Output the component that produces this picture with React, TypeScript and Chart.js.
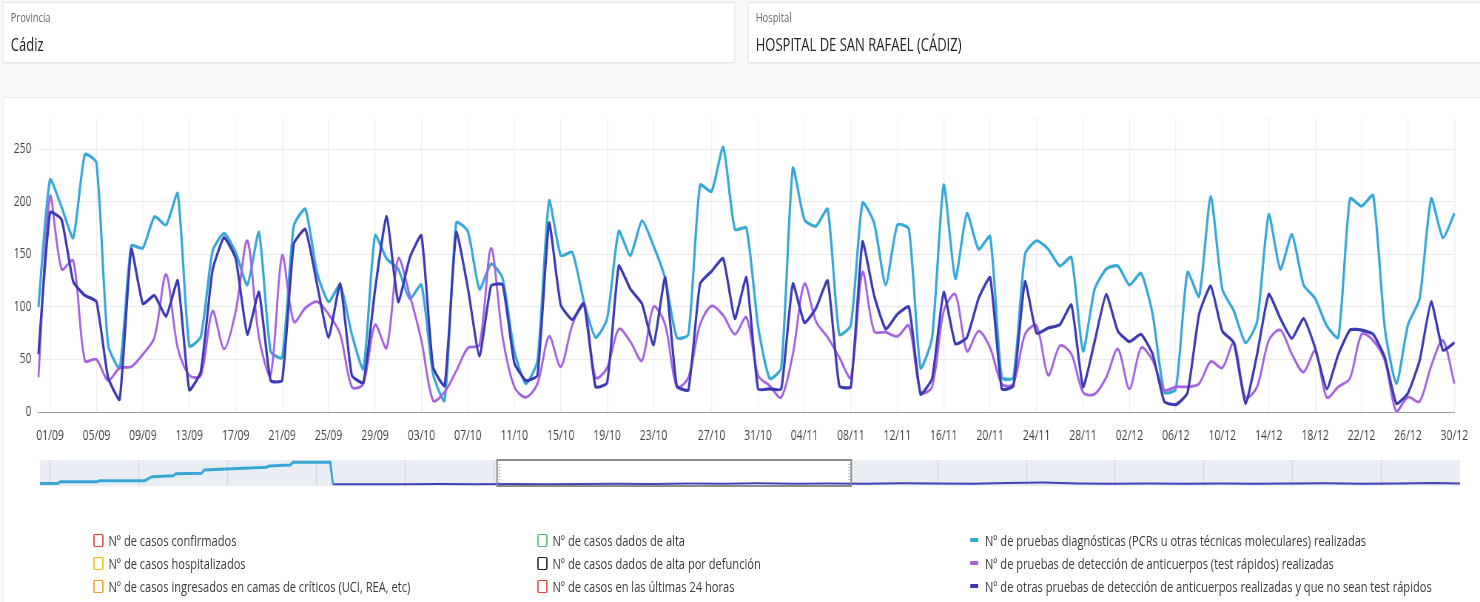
import React, { useEffect, useRef } from 'react';
import { Chart, registerables } from 'chart.js';

Chart.register(...registerables);

// ---------- texts ----------
const PROVINCIA_LABEL = 'Provincia';
const PROVINCIA = 'Cádiz';
const HOSPITAL_LABEL = 'Hospital';
const HOSPITAL = 'HOSPITAL DE SAN RAFAEL (CÁDIZ)';

// ---------- categories (daily, 31/08 .. 30/12, 25/10 appears twice: DST change) ----------
const FIRST_DAY = [2020, 7, 31];
const LAST_DAY = [2020, 11, 30];
const DUPLICATED_DAY = '25/10';

function buildDays(): string[] {
  const out: string[] = [];
  let t = Date.UTC(FIRST_DAY[0], FIRST_DAY[1], FIRST_DAY[2]);
  const end = Date.UTC(LAST_DAY[0], LAST_DAY[1], LAST_DAY[2]);
  while (t <= end) {
    const d = new Date(t);
    const s = String(d.getUTCDate()).padStart(2, '0') + '/' + String(d.getUTCMonth() + 1).padStart(2, '0');
    out.push(s);
    if (s === DUPLICATED_DAY) out.push(s);
    t += 86400000;
  }
  return out;
}
const days = buildDays();

const xTickLabels = [
  '01/09', '05/09', '09/09', '13/09', '17/09', '21/09', '25/09', '29/09', '03/10', '07/10',
  '11/10', '15/10', '19/10', '23/10', '27/10', '31/10', '04/11', '08/11', '12/11', '16/11',
  '20/11', '24/11', '28/11', '02/12', '06/12', '10/12', '14/12', '18/12', '22/12', '26/12', '30/12',
];
const yTicks = [0, 50, 100, 150, 200, 250];
const Y_MAX = 280;

// ---------- series ----------
const pcr = [
  100, 221, 195, 166, 245, 237, 64, 42, 158, 156,
  186, 178, 208, 63, 72, 153, 170, 152, 121, 171,
  58, 52, 177, 193, 133, 105, 121, 74, 41, 168,
  146, 136, 108, 121, 36, 11, 180, 172, 117, 141,
  127, 58, 27, 49, 201, 149, 152, 105, 71, 89,
  172, 149, 182, 158, 127, 71, 74, 216, 210, 252,
  174, 175, 82, 32, 42, 232, 183, 177, 193, 74,
  83, 199, 180, 121, 178, 174, 42, 71, 216, 127,
  189, 155, 167, 33, 33, 150, 163, 155, 139, 147,
  58, 117, 136, 139, 121, 132, 93, 19, 22, 133,
  110, 205, 117, 96, 66, 86, 188, 136, 169, 121,
  108, 82, 71, 203, 196, 206, 80, 27, 83, 108,
  203, 166, 189,
];

const testRapidos = [
  33, 205, 136, 144, 49, 50, 30, 42, 43, 55,
  71, 131, 61, 35, 35, 96, 60, 96, 163, 71,
  35, 149, 86, 99, 105, 93, 74, 24, 27, 83,
  61, 146, 111, 68, 11, 19, 39, 61, 64, 156,
  71, 24, 14, 27, 72, 43, 83, 103, 33, 42,
  79, 67, 49, 100, 83, 24, 33, 83, 101, 92,
  74, 90, 35, 25, 14, 55, 122, 86, 71, 52,
  33, 133, 77, 76, 72, 82, 19, 24, 96, 112,
  58, 77, 61, 27, 27, 74, 82, 35, 63, 55,
  19, 17, 33, 60, 22, 61, 49, 21, 24, 24,
  27, 48, 42, 66, 14, 24, 68, 78, 55, 38,
  58, 14, 24, 32, 74, 68, 49, 0, 14, 10,
  44, 68, 27,
];

const otrasPruebas = [
  55, 190, 183, 124, 111, 105, 33, 12, 155, 103,
  111, 91, 125, 21, 39, 135, 166, 146, 74, 114,
  30, 30, 160, 174, 122, 71, 122, 35, 28, 116,
  186, 105, 147, 168, 43, 25, 171, 118, 53, 120,
  121, 47, 30, 35, 180, 102, 88, 103, 24, 28,
  139, 117, 103, 64, 128, 25, 21, 122, 134, 146,
  89, 128, 22, 22, 22, 122, 85, 99, 125, 25,
  24, 162, 111, 79, 93, 100, 17, 32, 114, 65,
  71, 108, 128, 22, 25, 124, 75, 80, 83, 102,
  24, 67, 112, 77, 67, 74, 55, 10, 7, 18,
  93, 120, 77, 66, 8, 55, 112, 89, 70, 89,
  61, 22, 55, 78, 78, 74, 52, 8, 18, 49,
  105, 59, 66,
];

// ---------- navigator (overview) ----------
const navCyanX = [0, 2, 2.3, 6.4, 6.7, 11.8, 12.6, 15, 15.3, 18.2, 18.5, 21, 23, 25.5, 25.8, 28.2, 28.5, 32.7, 33];
const navCyanY = [10, 10, 16.5, 16.5, 20.4, 20.4, 35.8, 39.6, 47, 48.8, 61.5, 65.4, 68, 72, 77, 80.8, 91, 91, 7];
const navBlueX = [33, 37, 41, 45, 49, 53, 57, 61, 65, 69, 73, 77, 81, 85, 89, 93, 97, 101, 105, 109, 113, 117, 121, 125, 129, 133, 137, 141, 145, 149, 153, 157, 160];
const navBlueY = [7, 7, 7, 7.5, 7, 8, 7, 8, 9, 8, 10, 9, 11, 9, 10, 9, 11, 10, 9, 12, 13, 10, 9, 10, 9, 10, 9, 10, 11, 9, 10, 12, 10];
const navWindow = [51.5, 91.4];
const navGridStart = 1.1;
const navGridStep = 10;
const NAV_MAX_X = 160;

// ---------- legend ----------
const seriesNames = [
  'Nº de pruebas diagnósticas (PCRs u otras técnicas moleculares) realizadas',
  'Nº de pruebas de detección de anticuerpos (test rápidos) realizadas',
  'Nº de otras pruebas de detección de anticuerpos realizadas y que no sean test rápidos',
];
const seriesColors = ['#35a8d8', '#a461e2', '#3c39b4'];
const hiddenNames = [
  'Nº de casos confirmados',
  'Nº de casos hospitalizados',
  'Nº de casos ingresados en camas de críticos (UCI, REA, etc)',
  'Nº de casos dados de alta',
  'Nº de casos dados de alta por defunción',
  'Nº de casos en las últimas 24 horas',
];
const hiddenColors = ['#e0463f', '#efbb12', '#ee9a22', '#4fbd6e', '#1e1e1e', '#e0463f'];

const FAMILY = '"Open Sans", "Noto Sans", sans-serif';
// horizontal condensation of the whole page (the reference is horizontally squeezed)
const S = 0.74;
const X = (v: number) => v / S;
const PAGE_W = 1480;

export default function App() {
  const mainRef = useRef<HTMLCanvasElement | null>(null);
  const navRef = useRef<HTMLCanvasElement | null>(null);

  useEffect(() => {
    const tickSet = new Set(xTickLabels);
    const main = new Chart(mainRef.current as HTMLCanvasElement, {
      type: 'line',
      data: {
        labels: days,
        datasets: [
          { label: seriesNames[0], data: pcr, borderColor: seriesColors[0], backgroundColor: seriesColors[0], borderWidth: 3.2, pointRadius: 0, tension: 0.2, order: 3 },
          { label: seriesNames[1], data: testRapidos, borderColor: seriesColors[1], backgroundColor: seriesColors[1], borderWidth: 2.8, pointRadius: 0, tension: 0.3, order: 2 },
          { label: seriesNames[2], data: otrasPruebas, borderColor: seriesColors[2], backgroundColor: seriesColors[2], borderWidth: 3.2, pointRadius: 0, tension: 0.15, order: 1 },
        ],
      },
      options: {
        animation: false,
        responsive: false,
        maintainAspectRatio: false,
        layout: { padding: { top: 13, right: X(PAGE_W - 1458.5), left: 0, bottom: 0 } },
        plugins: { legend: { display: false }, tooltip: { enabled: false } },
        scales: {
          x: {
            type: 'category',
            offset: false,
            grid: { color: '#efefef', lineWidth: 1.3, drawTicks: false },
            border: { display: true, color: '#9c9c9c', width: 1 },
            ticks: {
              autoSkip: false,
              maxRotation: 0,
              minRotation: 0,
              padding: 16,
              color: '#3f3f3f',
              font: { size: 14, family: FAMILY },
              callback: (v: any) => days[v as number],
            },
            afterBuildTicks: (s: any) => {
              s.ticks = s.ticks.filter((t: any) => tickSet.has(days[t.value]));
            },
            afterFit: (s: any) => {
              s.height = 40;
            },
          },
          y: {
            min: 0,
            max: Y_MAX,
            grid: {
              color: (c: any) => (c.tick && c.tick.value === 0 ? '#9c9c9c' : '#ebebeb'),
              drawTicks: false,
            },
            border: { display: false },
            ticks: {
              padding: X(7),
              color: '#3f3f3f',
              font: { size: 14, family: FAMILY },
            },
            afterBuildTicks: (s: any) => {
              s.ticks = yTicks.map((v) => ({ value: v }));
            },
            afterFit: (s: any) => {
              s.width = X(38.4);
            },
          },
        },
      },
    });

    const navPlugin = {
      id: 'navDecor',
      beforeDatasetsDraw(chart: any) {
        const { ctx, chartArea: a, scales } = chart;
        const x = scales.x;
        ctx.save();
        ctx.fillStyle = '#e9eef4';
        ctx.fillRect(a.left, a.top, a.right - a.left, a.bottom - a.top);
        ctx.strokeStyle = '#d3d8de';
        ctx.lineWidth = 1.3;
        for (let v = navGridStart; v <= NAV_MAX_X; v += navGridStep) {
          const px = Math.round(x.getPixelForValue(v)) + 0.5;
          ctx.beginPath();
          ctx.moveTo(px, a.top);
          ctx.lineTo(px, a.bottom);
          ctx.stroke();
        }
        const x0 = x.getPixelForValue(navWindow[0]);
        const x1 = x.getPixelForValue(navWindow[1]);
        ctx.fillStyle = '#ffffff';
        ctx.fillRect(x0, a.top, x1 - x0, a.bottom - a.top);
        ctx.restore();
      },
      afterDatasetsDraw(chart: any) {
        const { ctx, chartArea: a, scales } = chart;
        const x = scales.x;
        const x0 = x.getPixelForValue(navWindow[0]);
        const x1 = x.getPixelForValue(navWindow[1]);
        ctx.save();
        ctx.strokeStyle = '#8c8c8c';
        ctx.lineWidth = 2;
        ctx.strokeRect(x0, a.top, x1 - x0, a.bottom - a.top);
        ctx.fillStyle = '#b0b0b0';
        for (let yy = a.top + 4; yy < a.bottom - 3; yy += 3) {
          ctx.fillRect(x0 + 2, yy, 2, 1);
          ctx.fillRect(x1 - 4, yy, 2, 1);
        }
        ctx.restore();
      },
    };

    const nav = new Chart(navRef.current as HTMLCanvasElement, {
      type: 'line',
      data: {
        datasets: [
          {
            data: navCyanX.map((x, i) => ({ x, y: navCyanY[i] })),
            borderColor: '#3aa6d6',
            borderWidth: 3,
            pointRadius: 0,
            tension: 0,
          },
          {
            data: navBlueX.map((x, i) => ({ x, y: navBlueY[i] })),
            borderColor: '#4442b6',
            borderWidth: 2,
            pointRadius: 0,
            tension: 0,
          },
        ],
      },
      options: {
        animation: false,
        responsive: false,
        maintainAspectRatio: false,
        layout: { padding: { left: X(40), right: X(20), top: 5, bottom: 5 } },
        plugins: { legend: { display: false }, tooltip: { enabled: false } },
        scales: {
          x: { type: 'linear', min: 0, max: NAV_MAX_X, display: false },
          y: { min: 0, max: 100, display: false },
        },
      },
      plugins: [navPlugin],
    });

    return () => {
      main.destroy();
      nav.destroy();
    };
  }, []);

  const legendCols: { name: string; color: string; line: boolean }[][] = [
    hiddenNames.slice(0, 3).map((n, i) => ({ name: n, color: hiddenColors[i], line: false })),
    hiddenNames.slice(3, 6).map((n, i) => ({ name: n, color: hiddenColors[i + 3], line: false })),
    seriesNames.map((n, i) => ({ name: n, color: seriesColors[i], line: true })),
  ];
  const colLeft = [93, 537, 970];
  const rowCenter = [540, 563, 586];
  const innerW = Math.round(X(PAGE_W));

  const card = (left: number, width: number, label: string, value: string) => (
    <div
      style={{
        position: 'absolute',
        left: X(left),
        top: 2,
        width: X(width),
        height: 61,
        background: '#ffffff',
        border: '1px solid #e4e4e4',
        boxSizing: 'border-box',
        boxShadow: '0 1px 2px rgba(0,0,0,0.05)',
      }}
    >
      <div style={{ position: 'absolute', left: X(7), top: 7, fontSize: 12.6, color: '#666', lineHeight: '16px' }}>{label}</div>
      <div style={{ position: 'absolute', left: X(7), top: 30, fontSize: 17.6, color: '#222', lineHeight: '22px' }}>{value}</div>
    </div>
  );

  return (
    <div
      style={{
        position: 'fixed',
        left: 0,
        top: 0,
        width: PAGE_W,
        height: 602,
        background: '#f8f8f8',
        overflow: 'hidden',
      }}
    >
      <div
        style={{
          position: 'absolute',
          left: 0,
          top: 0,
          width: innerW,
          height: 602,
          transform: `scaleX(${S})`,
          transformOrigin: '0 0',
          fontFamily: FAMILY,
        }}
      >
        {card(3, 732, PROVINCIA_LABEL, PROVINCIA)}
        {card(748, 740, HOSPITAL_LABEL, HOSPITAL)}
        <div
          style={{
            position: 'absolute',
            left: X(3),
            top: 97,
            width: X(1490),
            height: 520,
            background: '#ffffff',
            border: '1px solid #ebebeb',
            boxSizing: 'border-box',
          }}
        />
        <canvas ref={mainRef} width={innerW} height={352} style={{ position: 'absolute', left: 0, top: 100, width: innerW, height: 352 }} />
        <canvas ref={navRef} width={innerW} height={36} style={{ position: 'absolute', left: 0, top: 455, width: innerW, height: 36 }} />
        {legendCols.map((col, c) =>
          col.map((it, r) => (
            <div
              key={c + '-' + r}
              style={{
                position: 'absolute',
                left: X(colLeft[c]),
                top: rowCenter[r] - 10,
                height: 20,
                display: 'flex',
                alignItems: 'center',
                whiteSpace: 'nowrap',
                fontSize: 15,
                color: '#3a3a3a',
              }}
            >
              {it.line ? (
                <span style={{ display: 'inline-block', width: X(8), height: 4, background: it.color, borderRadius: 1, marginRight: X(7) }} />
              ) : (
                <span
                  style={{
                    display: 'inline-block',
                    width: X(10.5),
                    height: 13,
                    borderStyle: 'solid',
                    borderColor: it.color,
                    borderTopWidth: 1.6,
                    borderBottomWidth: 1.6,
                    borderLeftWidth: X(1.6),
                    borderRightWidth: X(1.6),
                    borderRadius: 2,
                    background: '#fff',
                    marginRight: X(5),
                    boxSizing: 'border-box',
                  }}
                />
              )}
              <span>{it.name}</span>
            </div>
          ))
        )}
      </div>
    </div>
  );
}
